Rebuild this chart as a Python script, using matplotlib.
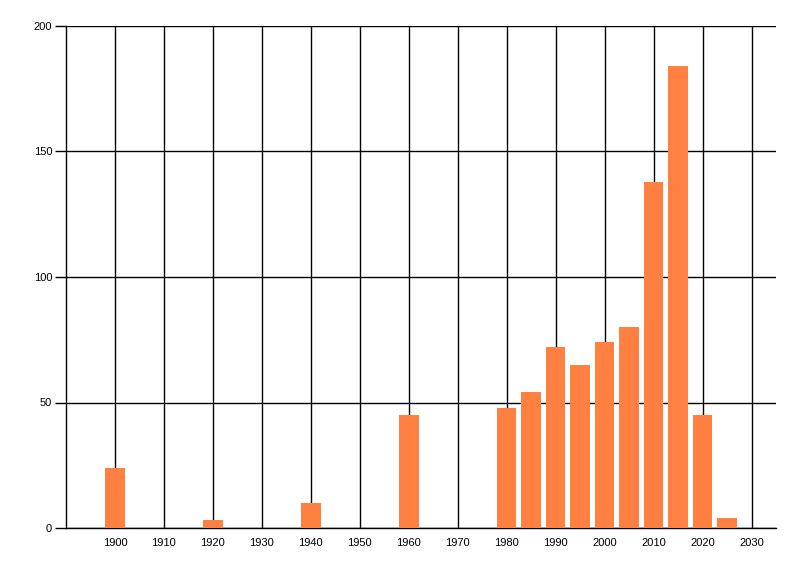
import matplotlib
matplotlib.use("Agg")
import matplotlib.pyplot as plt

# bar positions (year) and counts
years = [1900, 1920, 1940, 1960, 1980, 1985, 1990, 1995, 2000, 2005, 2010, 2015, 2020, 2025]
counts = [24, 3, 10, 45, 48, 54, 72, 65, 74, 80, 138, 184, 45, 4]

xTicks = list(range(1900, 2031, 10))
yTicks = [0, 50, 100, 150, 200]

barColor = "#FF8040"

plt.rcParams["font.family"] = ["Liberation Sans", "DejaVu Sans"]

fig = plt.figure(figsize=(8, 5.76), dpi=100)
ax = fig.add_axes([66 / 800, 48 / 576, 710 / 800, 502 / 576])

ax.bar(years, counts, width=4, color=barColor, zorder=3)

ax.set_xlim(1890, 2035)
ax.set_ylim(0, 200)
ax.set_xticks(xTicks)
ax.set_yticks(yTicks)

#grid lines drawn in plain black like the original
ax.grid(True, color="black", linewidth=1, zorder=1)
ax.set_axisbelow(True)

for side in ["top", "right"]:
    ax.spines[side].set_visible(False)
for side in ["left", "bottom"]:
    ax.spines[side].set_color("black")
    ax.spines[side].set_linewidth(1)

ax.tick_params(axis="x", length=0, pad=7, labelsize=8)
ax.tick_params(axis="y", length=8, width=1, pad=2, labelsize=8)

plt.savefig("out.png", dpi=100)
plt.close()
